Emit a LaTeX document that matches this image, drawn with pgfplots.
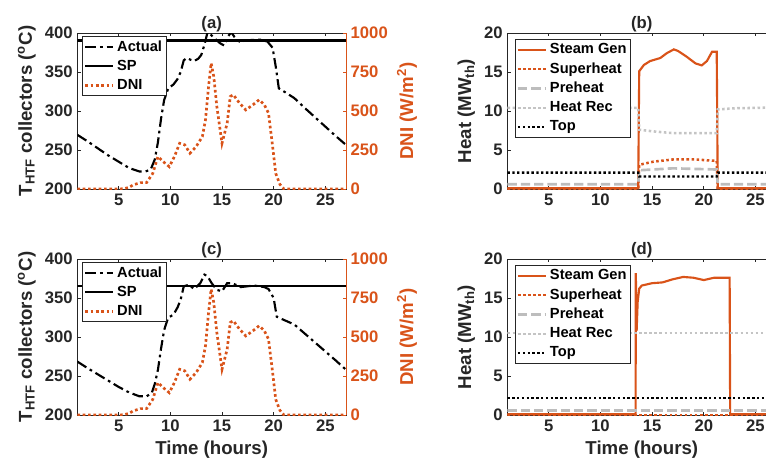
\documentclass[border=0pt]{standalone}
\usepackage{fontspec}
\setmainfont{Liberation Sans}
\usepackage{pgfplots}
\usepackage{pgfplotstable}
\pgfplotsset{compat=1.18}
\definecolor{morange}{HTML}{D95319}
\definecolor{pregray}{HTML}{BDBDBD}
\definecolor{recgray}{HTML}{C4C4C4}
\definecolor{axgray}{HTML}{262626}

\pgfplotstableread{
h T
1 269.5
2 261
3 252
4 243
5 235
6 227
7 222.5
7.6 222.5
8.1 225
8.5 238
8.8 260
9.1 290
9.4 314
9.8 329
10.3 334
10.7 341
11.0 350
11.3 365
11.6 368
11.9 366
12.3 364
12.7 367
13.0 372
13.3 385
13.6 401
13.9 398
14.3 393
14.8 387
15.2 384
15.6 396
15.9 401
16.2 395
16.7 389
17.2 390
17.8 391
18.7 391.5
19.4 389
19.9 381
20.2 357
20.5 329
21.0 325
22.0 316.5
23 304
24 292
25 280
26 268
27 256.5
}\actualA

\pgfplotstableread{
h T
1 268.5
2 260
3 252
4 244
5 236
6 229
7 224
7.7 224
8.2 228
8.5 240
8.8 258
9.1 285
9.4 309
9.8 325
10.3 328.5
10.7 338
11.0 348
11.3 365
11.8 367
12.3 361.5
12.6 365
12.9 369
13.3 380
13.6 378
14.0 369
14.5 360.5
15.0 358.5
15.5 369
16.0 369
16.8 364
18.1 366
19.1 364
19.5 361.5
20.0 350
20.3 326
20.8 323
22.0 316
23 304.5
24 293
25 281.5
26 270
27 258
}\actualC

\pgfplotstableread{
h D
1 0
5 0
5.5 2
6 10
6.4 26
7.1 41
7.7 41
8.3 100
8.8 208
9.3 176
9.9 143
10.4 208
10.9 293
11.4 283
11.9 229
12.5 272
13.1 336
13.4 443
13.7 657
13.95 807
14.2 722
14.5 529
15.0 293
15.5 422
15.8 593
16.1 604
16.7 550
17.3 507
18.0 540
18.6 572
19.1 540
19.5 486
19.9 272
20.2 100
20.6 30
21 0
27 0
}\dni

\pgfplotstableread{
h S
1 0.1
13.65 0.1
13.75 15.1
14.2 15.9
14.8 16.4
15.8 16.8
16.4 17.4
17.1 17.9
17.5 17.7
18.3 17.0
19.2 16.1
19.8 15.85
20.3 16.4
20.8 17.6
21.25 17.6
21.35 0.1
27 0.1
}\steamB

\pgfplotstableread{
h S
1 0
13.65 0
13.75 3.1
15.1 3.5
17.1 3.8
19.0 3.8
21.25 3.6
21.35 0
27 0
}\superB

\pgfplotstableread{
h S
1 0.6
13.65 0.6
13.75 2.4
17 2.65
21.25 2.5
21.35 0.6
27 0.6
}\preB

\pgfplotstableread{
h S
1 10.4
13.65 10.4
13.75 7.6
15 7.4
17.1 7.15
21.25 7.15
21.35 10.2
23 10.35
27 10.45
}\recB

\pgfplotstableread{
h S
1 2.1
13.65 2.1
13.75 1.6
21.25 1.6
21.35 2.1
27 2.1
}\topB

\pgfplotstableread{
h S
1 0.1
13.4 0.1
13.42 18.2
13.5 10.8
13.6 14.5
13.75 16.2
14.0 16.6
15 16.9
16 17.0
17 17.4
18 17.7
19 17.6
20 17.3
21 17.6
22.5 17.6
22.55 0.1
27 0.1
}\steamD

\pgfplotstableread{
h S
1 0
27 0
}\superD

\pgfplotstableread{
h S
1 0.6
27 0.6
}\preD

\pgfplotstableread{
h S
1 10.5
27 10.5
}\recD

\pgfplotstableread{
h S
1 2.2
27 2.2
}\topD

\pgfplotsset{
  every axis/.append style={
    font=\fontsize{12}{14}\selectfont\bfseries,
    /pgf/number format/assume math mode=true,
    /pgf/number format/1000 sep={},
    scale only axis, width=201.5pt, height=117pt,
    xmin=1, xmax=27, xtick={5,10,15,20,25},
    tick align=inside, major tick length=2.5pt,
    axis line style={axgray, line width=0.5pt},
    every tick/.style={axgray, line width=0.5pt},
    tick label style={axgray, font=\fontsize{12.5}{14}\selectfont\bfseries},
    label style={axgray, font=\fontsize{14}{16}\selectfont\bfseries},
    title style={axgray, font=\fontsize{12.5}{14}\selectfont\bfseries, yshift=-8.5pt},
    legend cell align=left,
    legend image code/.code={\draw[#1] (0pt,0pt) -- (21pt,0pt);},
    legend style={draw=axgray, line width=0.5pt, fill=white, inner sep=1pt,
      row sep=1.2pt, font=\fontsize{11}{13}\selectfont\bfseries},
  },
  actual/.style={black, line width=1.6pt, dash pattern=on 8pt off 3pt on 2pt off 3pt},
  sp/.style={black, line width=1.7pt},
  dnis/.style={morange, line width=2pt, dash pattern=on 2pt off 2pt},
  steam/.style={morange, line width=1.6pt},
  superh/.style={morange, line width=1.9pt, dash pattern=on 1.9pt off 1.9pt},
  preh/.style={pregray, line width=2pt, dash pattern=on 7pt off 3pt},
  hrec/.style={recgray, line width=1.9pt, dash pattern=on 1.9pt off 1.9pt},
  topl/.style={black, line width=1.8pt, dash pattern=on 1.8pt off 1.8pt},
}

\begin{document}
\begin{tikzpicture}
\path[use as bounding box] (0,0) rectangle (574.5pt,351.75pt);

% ---------- (a)
\begin{axis}[at={(58pt,210pt)}, anchor=south west,
  ymin=200, ymax=400, ytick={200,250,300,350,400}, ytick pos=left, xtick pos=both,
  title={(a)},
  ylabel={T\textsubscript{HTF} collectors (\textsuperscript{o}C)},
  legend style={at={(rel axis cs:0.018,0.98)}, anchor=north west}]
\addplot[actual] table[x=h,y=T] {\actualA};
\addlegendentry{Actual}
\addplot[sp] coordinates {(1,390.5) (27,390.5)};
\addlegendentry{SP}
\addlegendimage{dnis}
\addlegendentry{DNI}
\end{axis}
\begin{axis}[at={(58pt,210pt)}, anchor=south west,
  axis x line=none, axis y line*=right,
  ymin=0, ymax=1000, ytick={0,250,500,750,1000},
  y axis line style={morange}, ytick style={morange},
  yticklabel style={morange}, ylabel style={morange},
  ylabel={DNI (W/m\textsuperscript{2})}]
\addplot[dnis] table[x=h,y=D] {\dni};
\end{axis}

% ---------- (c)
\begin{axis}[at={(58pt,40.5pt)}, anchor=south west,
  ymin=200, ymax=400, ytick={200,250,300,350,400}, ytick pos=left, xtick pos=both,
  title={(c)}, xlabel={Time (hours)},
  ylabel={T\textsubscript{HTF} collectors (\textsuperscript{o}C)},
  legend style={at={(rel axis cs:0.018,0.98)}, anchor=north west}]
\addplot[actual] table[x=h,y=T] {\actualC};
\addlegendentry{Actual}
\addplot[sp] coordinates {(1,365.5) (27,365.5)};
\addlegendentry{SP}
\addlegendimage{dnis}
\addlegendentry{DNI}
\end{axis}
\begin{axis}[at={(58pt,40.5pt)}, anchor=south west,
  axis x line=none, axis y line*=right,
  ymin=0, ymax=1000, ytick={0,250,500,750,1000},
  y axis line style={morange}, ytick style={morange},
  yticklabel style={morange}, ylabel style={morange},
  ylabel={DNI (W/m\textsuperscript{2})}]
\addplot[dnis] table[x=h,y=D] {\dni};
\end{axis}

% ---------- (b)
\begin{axis}[at={(380.6pt,210pt)}, anchor=south west,
  ymin=0, ymax=20, ytick={0,5,10,15,20},
  title={(b)}, ylabel={Heat (MW\textsubscript{th})},
  legend style={at={(rel axis cs:0.028,0.96)}, anchor=north west}]
\addplot[steam] table[x=h,y=S] {\steamB};
\addlegendentry{Steam Gen}
\addplot[superh] table[x=h,y=S] {\superB};
\addlegendentry{Superheat}
\addplot[preh] table[x=h,y=S] {\preB};
\addlegendentry{Preheat}
\addplot[hrec] table[x=h,y=S] {\recB};
\addlegendentry{Heat Rec}
\addplot[topl] table[x=h,y=S] {\topB};
\addlegendentry{Top}
\end{axis}

% ---------- (d)
\begin{axis}[at={(380.6pt,40.5pt)}, anchor=south west,
  ymin=0, ymax=20, ytick={0,5,10,15,20},
  title={(d)}, xlabel={Time (hours)}, ylabel={Heat (MW\textsubscript{th})},
  legend style={at={(rel axis cs:0.028,0.96)}, anchor=north west}]
\addplot[steam] table[x=h,y=S] {\steamD};
\addlegendentry{Steam Gen}
\addplot[superh] table[x=h,y=S] {\superD};
\addlegendentry{Superheat}
\addplot[preh] table[x=h,y=S] {\preD};
\addlegendentry{Preheat}
\addplot[hrec] table[x=h,y=S] {\recD};
\addlegendentry{Heat Rec}
\addplot[topl] table[x=h,y=S] {\topD};
\addlegendentry{Top}
\end{axis}
\end{tikzpicture}
\end{document}
